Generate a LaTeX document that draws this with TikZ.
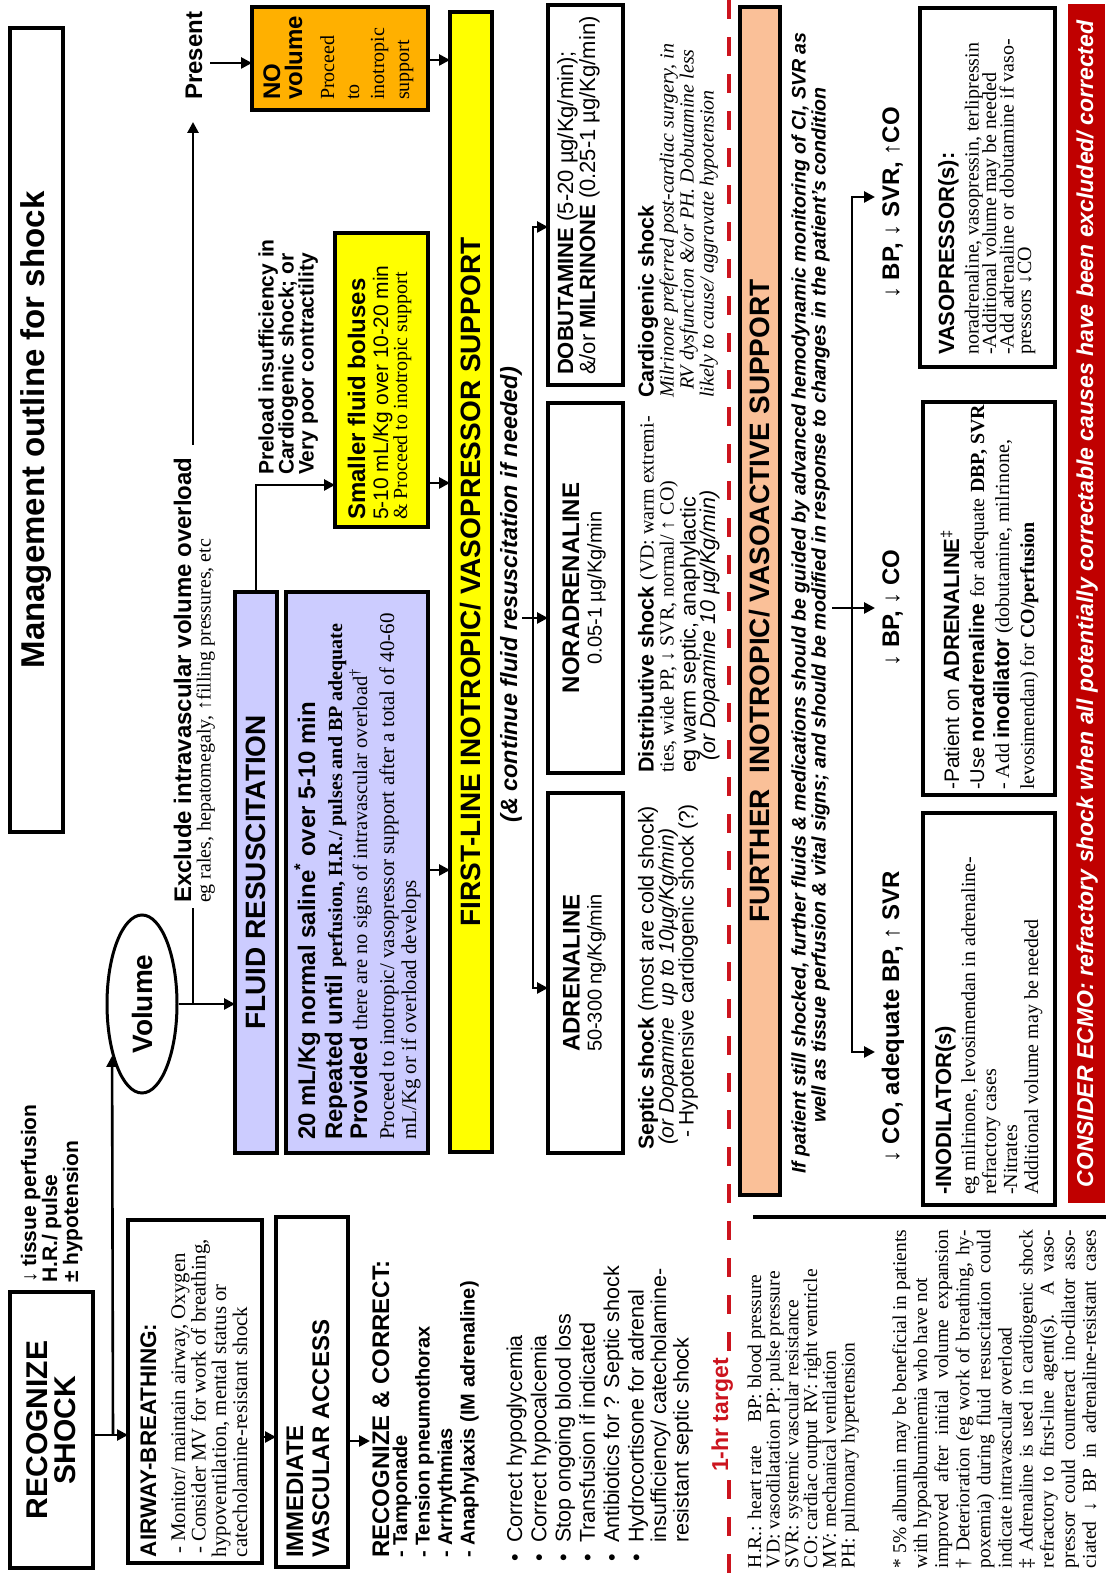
\documentclass[tikz,border=0pt]{standalone}
\usepackage{fontspec}
\setmainfont{Liberation Serif}
\setsansfont{Liberation Sans}
\usetikzlibrary{arrows.meta,shapes.geometric}
\definecolor{lav}{RGB}{204,204,255}
\definecolor{ylw}{RGB}{255,255,0}
\definecolor{org}{RGB}{255,176,0}
\definecolor{pch}{RGB}{250,192,152}
\definecolor{ecmo}{RGB}{192,0,0}
\definecolor{rdl}{RGB}{204,20,30}
\newcommand\fSB[1]{\fontsize{#1}{#1}\selectfont\sffamily\bfseries\upshape}
\newcommand\fSR[1]{\fontsize{#1}{#1}\selectfont\sffamily\mdseries\upshape}
\newcommand\fSI[1]{\fontsize{#1}{#1}\selectfont\sffamily\mdseries\itshape}
\newcommand\fSBI[1]{\fontsize{#1}{#1}\selectfont\sffamily\bfseries\itshape}
\newcommand\fRR[1]{\fontsize{#1}{#1}\selectfont\rmfamily\mdseries\upshape}
\newcommand\fRI[1]{\fontsize{#1}{#1}\selectfont\rmfamily\mdseries\itshape}
\newcommand\fRB[1]{\fontsize{#1}{#1}\selectfont\rmfamily\bfseries\upshape}
\newcommand\Jst[1]{\makebox[338pt][s]{#1}}
\begin{document}
\begin{tikzpicture}[x=1pt,y=-1pt,rotate=90,transform shape,
  bx/.style={draw,line width=3.2pt,anchor=north west,inner sep=0pt,outer sep=0pt},
  arr/.style={line width=2.6pt,-{Triangle[length=11pt,width=11pt]}},
  arr2/.style={line width=2.6pt,{Triangle[length=11pt,width=11pt]}-{Triangle[length=11pt,width=11pt]}},
  ln/.style={line width=2.6pt},
  L/.style={anchor=base west,inner sep=0pt,outer sep=0pt},
  C/.style={anchor=base,inner sep=0pt,outer sep=0pt}]
\useasboundingbox (0,0) rectangle (1573,1106);

% ---------- title ----------
\node[bx,minimum width=804pt,minimum height=53pt,font=\fSB{33}] (title) at (741,10) {Management outline for shock};

% ---------- recognize shock ----------
\node[bx,minimum width=276pt,minimum height=83pt,align=center,
      font={\fontsize{30}{28}\selectfont\sffamily\bfseries}] (recog) at (5,10) {RECOGNIZE\\SHOCK};
\node[L,font=\fSB{21}] (t1) at (290,36) {{\mdseries ↓} tissue perfusion};
\node[L,font=\fSB{21}] (t2) at (290,57) {H.R./ pulse};
\node[L,font=\fSB{21}] (t3) at (290,78) {± hypotension};

% ---------- airway ----------
\node[bx,minimum width=343pt,minimum height=134pt] (airway) at (10,128) {};
\node[L,font=\fSB{22.5}] (a0) at (16,156) {AIRWAY-BREATHING:};
\node[L,font=\fRR{20.8}] (a1) at (19,185) {- Monitor/ maintain airway, Oxygen};
\node[L,font=\fRR{20.8}] (a2) at (19,205.5) {- Consider MV for work of breathing,};
\node[L,font=\fRR{20.8}] (a3) at (16,226) {hypoventilation, mental status or};
\node[L,font=\fRR{20.8}] (a4) at (16,247) {catecholamine-resistant shock};

% ---------- immediate vascular access ----------
\node[bx,minimum width=350pt,minimum height=72pt] (immed) at (6,276) {};
\node[L,font=\fSB{24}] (i1) at (15,303) {IMMEDIATE};
\node[L,font=\fSB{24}] (i2) at (15,329) {VASCULAR ACCESS};

% ---------- recognize & correct ----------
\node[L,font=\fSB{24}] (rc0) at (15,389) {RECOGNIZE \& CORRECT:};
\node[L,font=\fSB{20}] (rc1) at (15,407) {- Tamponade};
\node[L,font=\fSB{20}] (rc2) at (15,429.5) {- Tension pneumothorax};
\node[L,font=\fSB{20}] (rc3) at (15,452) {- Arrhythmias};
\node[L,font=\fSB{20}] (rc4) at (15,474.5) {- Anaphylaxis (IM adrenaline)};

\foreach \by/\bt [count=\k] in {522/Correct hypoglycemia,546.3/Correct hypocalcemia,570.6/Stop ongoing blood loss,594.9/Transfusion if indicated,619.2/Antibiotics for ? Septic shock,643.5/Hydrocortisone for adrenal}{
  \node[L,font=\fSR{21.5}] (bt\k) at (30,\by) {\bt};
  \node[L,font=\fSR{21.5}] (bb\k) at (12,\by) {\textbullet};
}
\node[L,font=\fSR{21.5}] (bt7) at (30,666) {insufficiency/ catecholamine-};
\node[L,font=\fSR{21.5}] (bt8) at (30,688.5) {resistant septic shock};

% ---------- 1-hr target line ----------
\coordinate (rd0) at (0,729);
\coordinate (rd1) at (1573,729);
\draw[rdl,line width=4pt,dash pattern=on 19pt off 18pt] (rd0) -- (rd1);
\node[anchor=base,fill=white,inner sep=3pt,text=rdl,font=\fSB{23}] (hr) at (158,728) {1-hr target};

% ---------- abbreviations ----------
\node[L,font=\fRR{19.5}] (ab1) at (5,761) {\makebox[145pt][l]{H.R.: heart rate}BP: blood pressure};
\node[L,font=\fRR{19.5}] (ab2) at (5,779.7) {VD: vasodilatation\hspace{6pt}PP: pulse pressure};
\node[L,font=\fRR{19.5}] (ab3) at (5,798.4) {SVR: systemic vascular resistance};
\node[L,font=\fRR{19.5}] (ab4) at (5,817) {CO: cardiac output\hspace{6pt}RV: right ventricle};
\node[L,font=\fRR{19.5}] (ab5) at (5,835.8) {MV: mechanical ventilation};
\node[L,font=\fRR{19.5}] (ab6) at (5,854.5) {PH: pulmonary hypertension};

% ---------- footnotes ----------
\node[L,font=\fRR{19.5}] (fn1) at (5,906) {\Jst{* 5\% albumin may be beneficial in patients}};
\node[L,font=\fRR{19.5}] (fn2) at (5,927.1) {with hypoalbuminemia who have not};
\node[L,font=\fRR{19.5}] (fn3) at (5,948.2) {\Jst{improved after initial volume expansion}};
\node[L,font=\fRR{19.5}] (fn4) at (5,969.3) {\Jst{† Deterioration (eg work of breathing, hy-}};
\node[L,font=\fRR{19.5}] (fn5) at (5,990.4) {\Jst{poxemia) during fluid resuscitation could}};
\node[L,font=\fRR{19.5}] (fn6) at (5,1011.5) {indicate intravascular overload};
\node[L,font=\fRR{19.5}] (fn7) at (5,1032.6) {\Jst{‡ Adrenaline is used in cardiogenic shock}};
\node[L,font=\fRR{19.5}] (fn8) at (5,1053.7) {\Jst{refractory to first-line agent(s). A vaso-}};
\node[L,font=\fRR{19.5}] (fn9) at (5,1074.8) {\Jst{pressor could counteract ino-dilator asso-}};
\node[L,font=\fRR{19.5}] (fn10) at (5,1095.9) {\Jst{ciated ↓ BP in adrenaline-resistant cases}};

\coordinate (sp0) at (356,753);
\coordinate (sp1) at (356,1106);
\draw[line width=3.5pt] (sp0) -- (sp1);

% ---------- volume ----------
\node[ellipse,draw,line width=3pt,minimum width=178pt,minimum height=70pt,inner sep=0pt,font=\fSB{28}] (vol) at (569,142) {Volume};

\coordinate (c1a) at (138,93);
\coordinate (c1b) at (138,128);
\draw[arr] (c1a) -- (c1b);
\coordinate (c2a) at (138,113);
\draw[arr] (c2a) -- (vol.150);
\coordinate (c3a) at (136,262);
\coordinate (c3b) at (136,276);
\draw[arr] (c3a) -- (c3b);
\coordinate (c4a) at (132,348);
\coordinate (c4b) at (132,370);
\draw[arr] (c4a) -- (c4b);

\coordinate (c5) at (569,235);
\draw[arr] (vol.south) -- (c5);
\coordinate (c6a) at (569,193);
\coordinate (c6b) at (665,193);
\draw[ln] (c6a) -- (c6b);
\node[L,font=\fSB{24}] (excl) at (670,191) {Exclude intravascular volume overload};
\node[L,font=\fRR{20}] (egr) at (670,210.5) {eg rales, hepatomegaly, ↑filling pressures, etc};
\coordinate (c7a) at (1128,193);
\coordinate (c7b) at (1451,193);
\draw[arr] (c7a) -- (c7b);
\node[L,font=\fSB{24}] (present) at (1473,202) {Present};
\coordinate (c8a) at (1510,210);
\coordinate (c8b) at (1510,252);
\draw[arr] (c8a) -- (c8b);

% ---------- NO volume ----------
\node[bx,fill=org,minimum width=103pt,minimum height=176pt] (novol) at (1463,252) {};
\node[L,font=\fSB{24}] (nv1) at (1473,280) {NO};
\node[L,font=\fSB{24}] (nv2) at (1473,302) {volume};
\node[L,font=\fRR{20}] (nv3) at (1473,334) {Proceed};
\node[L,font=\fRR{20}] (nv4) at (1473,359) {to};
\node[L,font=\fRR{20}] (nv5) at (1473,384) {inotropic};
\node[L,font=\fRR{20}] (nv6) at (1473,409) {support};

% ---------- fluid resuscitation ----------
\node[bx,fill=lav,minimum width=561pt,minimum height=42pt,font=\fSB{28}] (fluidhd) at (420,235) {FLUID RESUSCITATION};
\node[bx,fill=lav,minimum width=561pt,minimum height=142pt] (fluidbd) at (420,286) {};
\node[L,font=\fSB{24}] (fb1) at (433,315) {20 mL/Kg normal saline\textsuperscript{*} over 5-10 min};
\node[L,font=\fSB{24}] (fb2) at (433,342) {Repeated until {\fRB{20}perfusion, H.R./ pulses and BP adequate}};
\node[L,font=\fSB{24}] (fb3) at (433,367) {Provided {\fRR{20.5}there are no signs of intravascular overload\textsuperscript{†}}};
\node[L,font=\fRR{21}] (fb4) at (433,394) {Proceed to inotropic/ vasopressor support after a total of 40-60};
\node[L,font=\fRR{21}] (fb5) at (433,416) {mL/Kg or if overload develops};

\coordinate (c10a) at (981,256);
\coordinate (c10b) at (1088,256);
\coordinate (c10c) at (1088,335);
\draw[arr] (c10a) -- (c10b) -- (c10c);
\node[L,font=\fSB{21}] (pl1) at (1098,273.5) {Preload insufficiency in};
\node[L,font=\fSB{21}] (pl2) at (1098,293.5) {Cardiogenic shock; or};
\node[L,font=\fSB{21}] (pl3) at (1098,313.5) {Very poor contractility};

\node[bx,fill=ylw,minimum width=294pt,minimum height=93pt] (small) at (1046,335) {};
\node[L,font=\fSB{24}] (sm1) at (1053,365) {Smaller fluid boluses};
\node[L,font=\fSR{21}] (sm2) at (1053,388) {5-10 mL/Kg over 10-20 min};
\node[L,font=\fRR{20}] (sm3) at (1053,407) {\& Proceed to inotropic support};

\coordinate (c9a) at (1513,428);
\coordinate (c9b) at (1513,450);
\coordinate (c11a) at (1090,428);
\coordinate (c11b) at (1090,450);
\coordinate (c12a) at (703,428);
\coordinate (c12b) at (703,450);
\draw[arr] (c9a) -- (c9b);
\draw[arr] (c11a) -- (c11b);
\draw[arr] (c12a) -- (c12b);

% ---------- first-line ----------
\node[bx,fill=ylw,minimum width=1140pt,minimum height=42pt,font=\fSB{28}] (first) at (421,450) {FIRST-LINE INOTROPIC/ VASOPRESSOR SUPPORT};
\node[C,font=\fSBI{23.5}] (cont) at (978,517) {(\& continue fluid resuscitation if needed)};

\coordinate (b1a) at (585,548);
\coordinate (b1b) at (585,533);
\coordinate (b1c) at (1346,533);
\coordinate (b1d) at (1346,548);
\draw[arr2] (b1a) -- (b1b) -- (b1c) -- (b1d);
\coordinate (b1e) at (955,522);
\coordinate (b1f) at (955,548);
\draw[arr] (b1e) -- (b1f);

\node[bx,minimum width=360pt,minimum height=75pt] (adr) at (420,548) {};
\node[C,font=\fSB{24}] (adr1) at (600,579.5) {ADRENALINE};
\node[C,font=\fSR{20}] (adr2) at (600,601.5) {50-300 ng/Kg/min};
\node[bx,minimum width=370pt,minimum height=75pt] (nor) at (800,548) {};
\node[C,font=\fSB{24}] (nor1) at (985,579) {NORADRENALINE};
\node[C,font=\fSR{20}] (nor2) at (985,601.5) {0.05-1 µg/Kg/min};
\node[bx,minimum width=380pt,minimum height=75pt] (dob) at (1188,548) {};
\node[L,font=\fSB{22}] (dob1) at (1198,573) {DOBUTAMINE {\fSR{22}(5-20 µg/Kg/min);}};
\node[L,font=\fSR{22}] (dob2) at (1198,595) {\&/or {\fSB{22}MILRINONE} (0.25-1 µg/Kg/min)};

\node[L,font=\fSB{21.5}] (se1) at (423,653.5) {Septic shock {\fSR{21.5}(most are cold shock)}};
\node[L,font=\fSI{21}] (se2) at (428,673.5) {(or Dopamine\ \ up to 10µg/Kg/min)};
\node[L,font=\fSR{21}] (se3) at (435,693.5) {- Hypotensive cardiogenic shock (?)};

\node[L,font=\fSB{21.5}] (ds1) at (800,653.5) {Distributive shock {\fRR{20}(VD: warm extremi-}};
\node[L,font=\fRR{20}] (ds2) at (800,673.5) {ties, wide PP, ↓ SVR, normal/ ↑ CO)};
\node[L,font=\fSR{21.5}] (ds3) at (800,695.5) {eg warm septic, anaphylactic};
\node[L,font=\fSI{21.5}] (ds4) at (812,715) {(or Dopamine 10 µg/Kg/min)};

\node[L,font=\fSB{21.5}] (cg1) at (1175,653.5) {Cardiogenic shock};
\node[L,font=\fRI{20}] (cg2) at (1175,673.5) {Milrinone preferred post-cardiac surgery, in};
\node[L,font=\fRI{20}] (cg3) at (1183,693.5) {RV dysfunction \&/or PH. Dobutamine less};
\node[L,font=\fRI{20}] (cg4) at (1175,713.5) {likely to cause/ aggravate hypotension};

% ---------- further ----------
\node[bx,fill=pch,minimum width=1188pt,minimum height=40pt,font=\fSB{28}] (further) at (378,740) {FURTHER\ \ INOTROPIC/ VASOACTIVE SUPPORT};
\node[C,font=\fSBI{19.6}] (ifp1) at (970,805.5) {If patient still shocked, further fluids \& medications should be guided by advanced hemodynamic monitoring of CI, SVR as};
\node[C,font=\fSBI{19.6}] (ifp2) at (968,825.5) {well as tissue perfusion \& vital signs; and should be modified in response to changes in the patient's condition};

\coordinate (b2a) at (521,875);
\coordinate (b2b) at (521,852);
\coordinate (b2c) at (1376,852);
\coordinate (b2d) at (1376,875);
\draw[arr2] (b2a) -- (b2b) -- (b2c) -- (b2d);
\coordinate (b2e) at (965,832);
\coordinate (b2f) at (965,875);
\draw[arr] (b2e) -- (b2f);

\node[L,font=\fSB{24}] (r1) at (410,899) {{\mdseries ↓} CO, adequate BP, {\mdseries ↑} SVR};
\node[C,font=\fSB{24}] (r2) at (965,899) {{\mdseries ↓} BP, {\mdseries ↓} CO};
\node[C,font=\fSB{24}] (r3) at (1370,899) {{\mdseries ↓} BP, {\mdseries ↓} SVR, {\mdseries ↑}CO};

\node[bx,minimum width=392pt,minimum height=132pt] (inod) at (368,923) {};
\node[L,font=\fSB{22}] (in1) at (378,951) {-INODILATOR(s)};
\node[L,font=\fRR{20}] (in2) at (378,975) {eg milrinone, levosimendan in adrenaline-};
\node[L,font=\fRR{20}] (in3) at (378,996) {refractory cases};
\node[L,font=\fRR{20}] (in4) at (378,1017) {-Nitrates};
\node[L,font=\fRR{20}] (in5) at (378,1038) {Additional volume may be needed};

\node[bx,minimum width=393pt,minimum height=132pt] (adb) at (778,923) {};
\node[L,font=\fSR{21}] (ad1) at (783,959) {-Patient on {\fSB{22}ADRENALINE}\textsuperscript{‡}};
\node[L,font=\fSR{20}] (ad2) at (783,984) {-Use {\fSB{21}noradrenaline} {\fRR{20}for adequate} {\fRB{20}DBP, SVR}};
\node[L,font=\fRR{20}] (ad3) at (783,1009) {- Add {\fSB{22}inodilator} (dobutamine, milrinone,};
\node[L,font=\fRR{20}] (ad4) at (783,1034) {levosimendan) for {\fRB{20}CO/perfusion}};

\node[bx,minimum width=359pt,minimum height=135pt] (vaso) at (1206,920) {};
\node[L,font=\fSB{22}] (vs1) at (1218,954) {VASOPRESSOR(s):};
\node[L,font=\fRR{20}] (vs2) at (1218,978.5) {noradrenaline, vasopressin, terlipressin};
\node[L,font=\fRR{20}] (vs3) at (1218,996) {-Additional volume may be needed};
\node[L,font=\fRR{20}] (vs4) at (1218,1013.5) {-Add adrenaline or dobutamine if vaso-};
\node[L,font=\fRR{20}] (vs5) at (1218,1031) {pressors ↓CO};

% ---------- ECMO ----------
\node[bx,fill=ecmo,draw=ecmo,line width=1pt,minimum width=1198pt,minimum height=36pt] (ecmo) at (370,1068) {};
\node[C,text=white,font=\fSBI{23}] (ecmotx) at (969,1093) {CONSIDER ECMO: refractory shock when all potentially correctable causes have been excluded/ corrected};
\end{tikzpicture}
\end{document}
